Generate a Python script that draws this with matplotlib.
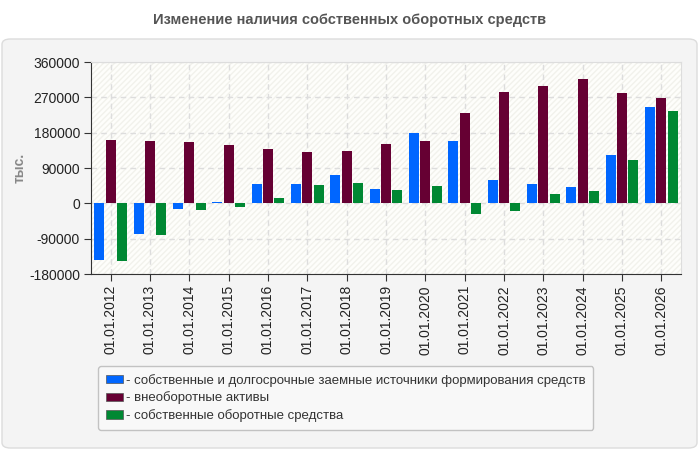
import matplotlib

matplotlib.use("Agg")
import matplotlib.pyplot as plt
import numpy as np
from matplotlib.patches import FancyBboxPatch, Rectangle

plt.rcParams["font.family"] = ["Liberation Sans", "DejaVu Sans"]

dates = [f"01.01.{y}" for y in range(2012, 2027)]
own_and_long_term = [-145500, -78000, -14500, 4000, 49000, 49000, 72000, 36500,
                     178000, 158000, 59000, 49000, 41500, 122500, 246500]
non_current_assets = [160500, 158000, 155500, 148000, 137500, 130000, 132500, 150500,
                      158000, 229000, 284500, 300000, 317500, 282000, 269500]
own_working_capital = [-148000, -80500, -17000, -9000, 13500, 46500, 51500, 34000,
                       44000, -26000, -19500, 23500, 31000, 110000, 234000]

series_names = [
    "- собственные и долгосрочные заемные источники формирования средств",
    "- внеоборотные активы",
    "- собственные оборотные средства",
]
colors = ["#0066ff", "#660033", "#008833"]
y_ticks = [-180000, -90000, 0, 90000, 180000, 270000, 360000]

fig = plt.figure(figsize=(7, 4.5), dpi=100)
fig.patch.set_facecolor("white")

# outer rounded panel, kept behind the axes
panel = FancyBboxPatch((2 / 700, 2 / 450), 695 / 700, 409 / 450,
                       boxstyle="round,pad=0,rounding_size=0.012",
                       transform=fig.transFigure, facecolor="#f4f4f4",
                       edgecolor="#dcdcdc", linewidth=1, zorder=-10)
fig.patches.append(panel)

fig.text(0.5, 1 - 20 / 450, "Изменение наличия собственных оборотных средств",
         ha="center", va="center", fontsize=10.5, fontweight="bold", color="#555555")

ax = fig.add_axes([91 / 700, 1 - 274 / 450, 590 / 700, 212 / 450])
ax.set_facecolor("#fefefb")
ax.add_patch(Rectangle((0, 0), 1, 1, transform=ax.transAxes, facecolor="none",
                       edgecolor="#f2f2ec", hatch="//////", linewidth=0, zorder=0))

x = np.arange(len(dates))
width = 0.255
for i, (vals, c) in enumerate(zip([own_and_long_term, non_current_assets,
                                   own_working_capital], colors)):
    ax.bar(x + (i - 1) * (width + 0.03), vals, width, color=c, zorder=3,
           label=series_names[i])

ax.set_xlim(-0.5, len(dates) - 0.5)
ax.set_ylim(-180000, 360000)
ax.set_yticks(y_ticks)
ax.set_yticklabels([str(v) for v in y_ticks], fontsize=10, color="#222222")
ax.set_xticks(x)
ax.set_xticklabels(dates, rotation=90, fontsize=10, color="#222222")
ax.grid(True, color="#dddddd", linestyle=(0, (4, 3)), linewidth=1, zorder=1)
ax.set_axisbelow(True)
ax.tick_params(axis="both", direction="out", length=5, color="#333333", pad=3)

for side in ("top", "right"):
    ax.spines[side].set_color("#dddddd")
for side in ("left", "bottom"):
    ax.spines[side].set_color("#333333")

fig.text(20 / 700, 1 - 168 / 450, "тыс.", rotation=90, ha="center", va="center",
         fontsize=10, fontweight="bold", color="#888888")

leg = fig.legend(loc="upper left", bbox_to_anchor=(98 / 700, 1 - 366 / 450),
                 borderaxespad=0, fontsize=9.55, frameon=True, fancybox=True,
                 handlelength=1.3, handleheight=0.6, handletextpad=0.2,
                 labelspacing=0.35, borderpad=0.6, labelcolor="#333333")
leg.get_frame().set_facecolor("#fafafa")
leg.get_frame().set_edgecolor("#b5b5b5")
for handle in leg.legend_handles:
    handle.set_edgecolor("#555555")
    handle.set_linewidth(0.5)

fig.savefig("out.png", dpi=100)
